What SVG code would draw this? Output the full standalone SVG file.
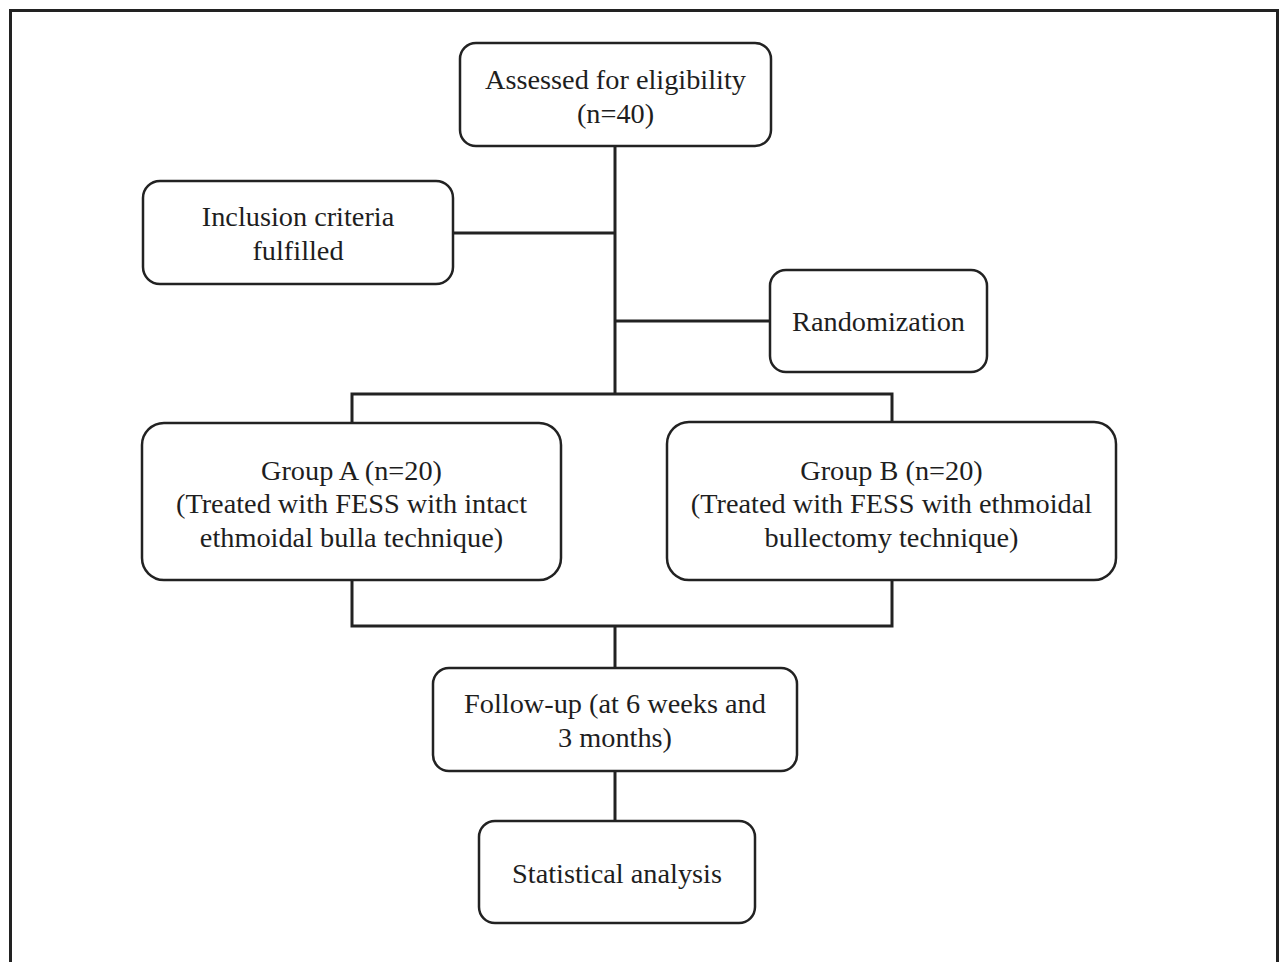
<svg xmlns="http://www.w3.org/2000/svg" width="1280" height="962" viewBox="0 0 1280 962">
<style>
.box{fill:#fff;stroke:#222;stroke-width:2.5}
.ln{stroke:#222;stroke-width:3;fill:none}
text{font-family:"Liberation Serif","Times New Roman",serif;font-size:28.3px;fill:#1e1e1e;text-anchor:middle}
</style>
<rect width="1280" height="962" fill="#fff"/>
<path d="M10.5 970 V10.5 H1277.5 V970" fill="none" stroke="#222" stroke-width="3"/>
<g id="connectors">
<path class="ln" d="M615 146 V394"/>
<path class="ln" d="M453 233 H615"/>
<path class="ln" d="M615 321 H770"/>
<path class="ln" d="M352 423 V394 H892 V422"/>
<path class="ln" d="M352 580 V626 H892 V580"/>
<path class="ln" d="M615 626 V668"/>
<path class="ln" d="M615 771 V821"/>
</g>
<g id="assessed">
<rect class="box" x="460" y="43" width="311" height="103" rx="16"/>
<text x="615.5" y="89">Assessed for eligibility</text>
<text x="615.5" y="123">(n=40)</text>
</g>
<g id="inclusion">
<rect class="box" x="143" y="181" width="310" height="103" rx="17"/>
<text x="298" y="226">Inclusion criteria</text>
<text x="298" y="260">fulfilled</text>
</g>
<g id="randomization">
<rect class="box" x="770" y="270" width="217" height="102" rx="16"/>
<text x="878.5" y="331">Randomization</text>
</g>
<g id="groupA">
<rect class="box" x="142" y="423" width="419" height="157" rx="22"/>
<text x="351.5" y="480">Group A (n=20)</text>
<text x="351.5" y="513">(Treated with FESS with intact</text>
<text x="351.5" y="547">ethmoidal bulla technique)</text>
</g>
<g id="groupB">
<rect class="box" x="667" y="422" width="449" height="158" rx="22"/>
<text x="891.5" y="480">Group B (n=20)</text>
<text x="891.5" y="513">(Treated with FESS with ethmoidal</text>
<text x="891.5" y="547">bullectomy technique)</text>
</g>
<g id="followup">
<rect class="box" x="433" y="668" width="364" height="103" rx="16"/>
<text x="615" y="713">Follow-up (at 6 weeks and</text>
<text x="615" y="747">3 months)</text>
</g>
<g id="statistical">
<rect class="box" x="479" y="821" width="276" height="102" rx="16"/>
<text x="617" y="883">Statistical analysis</text>
</g>
</svg>
